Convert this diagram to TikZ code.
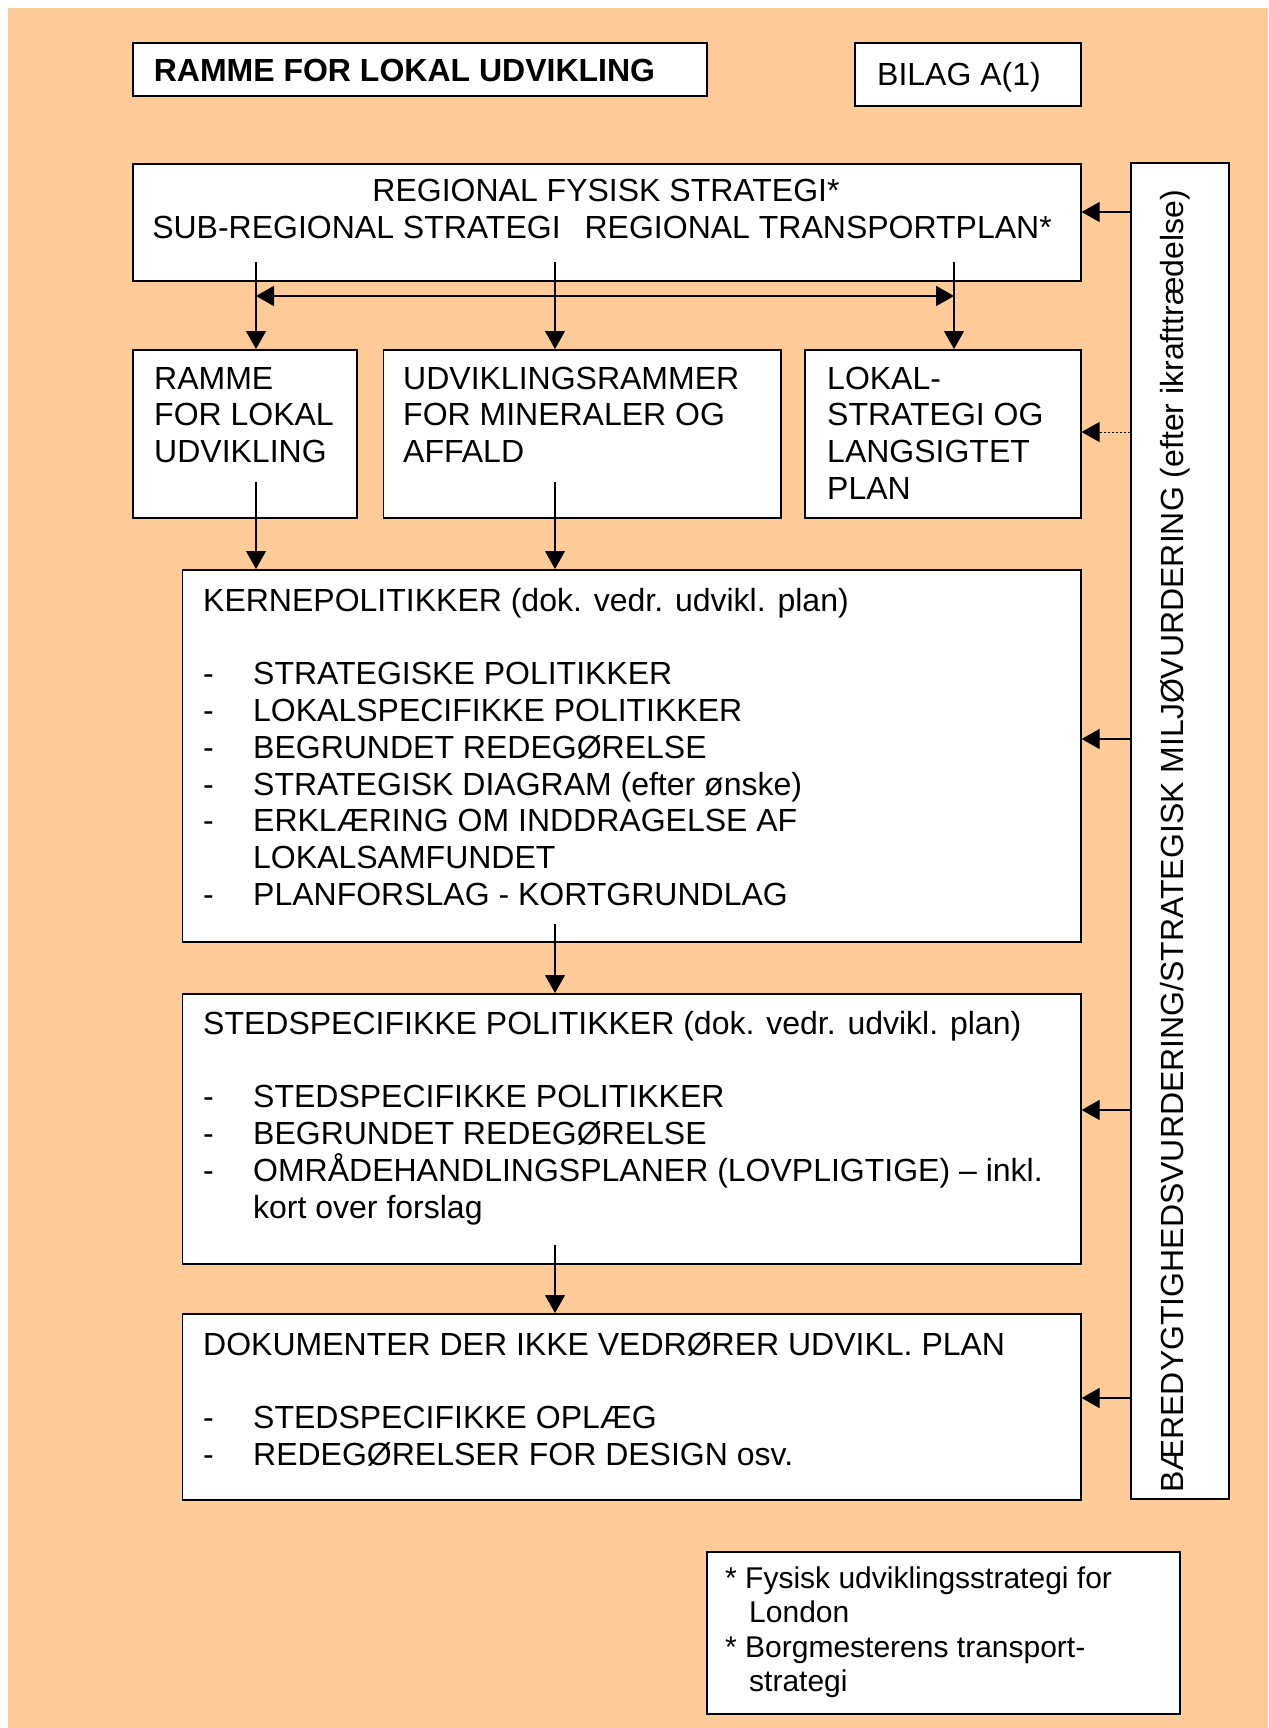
\documentclass[tikz,border=0pt]{standalone}
\usepackage{fontspec}
\setmainfont{Liberation Sans}
\usetikzlibrary{arrows.meta}
\definecolor{fersken}{HTML}{FFCC99}
\newcommand\stor{\fontsize{32}{36.8}\selectfont}
\newcommand\pkt{\makebox[50pt][l]{-}}
\newcommand\linjer[1]{\parbox[t]{900pt}{\raggedright #1}}
\newcommand\kasse[5]{\node[box, minimum width={#4-#2}, minimum height={#5-#3}] (#1) at (#2,#3) {};}
\tikzset{
  box/.style={draw, line width=1.6pt, fill=white, inner sep=0pt, anchor=north west},
  txt/.style={inner sep=0pt, anchor=base west, font=\stor},
  link/.style={line width=1.2pt, -{Triangle[length=18pt,width=20pt]}},
}
\begin{document}
\begin{tikzpicture}[x=1pt,y=-1pt]
\useasboundingbox (0,0) rectangle (1268,1728);
\fill[fersken] (8,8) rectangle (1268,1728);
% overskrift
\kasse{titel}{132}{42}{706}{95}
\kasse{bilag}{854}{42}{1080}{105}
\node[txt, font=\stor\bfseries] (ttitel) at (153.6,82) {RAMME FOR LOKAL UDVIKLING};
\node[txt] (tbilag) at (877,86) {BILAG A(1)};
% regionalt niveau
\kasse{region}{132}{163}{1080}{280}
\node[txt, anchor=base] (tregion1) at (606,202) {REGIONAL FYSISK STRATEGI*};
\node[txt, anchor=base] (tregion2) at (602,239) {SUB-REGIONAL STRATEGI\hspace{24pt}REGIONAL TRANSPORTPLAN*};
% rammer
\kasse{ramme}{132}{349}{356}{517}
\kasse{mineral}{382.5}{349}{780}{517}
\kasse{lokal}{804}{349}{1080}{517}
\node[txt] (tramme) at (154,389) {\linjer{RAMME\\FOR LOKAL\\UDVIKLING}};
\node[txt] (tmineral) at (403,389) {\linjer{UDVIKLINGSRAMMER\\FOR MINERALER OG\\AFFALD}};
\node[txt] (tlokal) at (827,389) {\linjer{LOKAL-\\STRATEGI OG\\LANGSIGTET\\PLAN}};
% dokumenter
\kasse{kerne}{181.5}{569}{1080}{941}
\node[txt] (tkerne) at (203,611) {\linjer{KERNEPOLITIKKER (dok. vedr. udvikl. plan)\\[36.8pt]
  \pkt STRATEGISKE POLITIKKER\\
  \pkt LOKALSPECIFIKKE POLITIKKER\\
  \pkt BEGRUNDET REDEGØRELSE\\
  \pkt STRATEGISK DIAGRAM (efter ønske)\\
  \pkt ERKLÆRING OM INDDRAGELSE AF\\
  \hspace*{50pt}LOKALSAMFUNDET\\
  \pkt PLANFORSLAG - KORTGRUNDLAG}};
\kasse{sted}{181.5}{993}{1080}{1263}
\node[txt] (tsted) at (203,1034) {\linjer{STEDSPECIFIKKE POLITIKKER (dok. vedr. udvikl. plan)\\[36.8pt]
  \pkt STEDSPECIFIKKE POLITIKKER\\
  \pkt BEGRUNDET REDEGØRELSE\\
  \pkt OMRÅDEHANDLINGSPLANER (LOVPLIGTIGE) – inkl.\\
  \hspace*{50pt}kort over forslag}};
\kasse{dok}{181.5}{1313}{1080}{1499}
\node[txt] (tdok) at (203,1355) {\linjer{DOKUMENTER DER IKKE VEDRØRER UDVIKL. PLAN\\[36.8pt]
  \pkt STEDSPECIFIKKE OPLÆG\\
  \pkt REDEGØRELSER FOR DESIGN osv.}};
% vurdering
\kasse{side}{1130}{162}{1228}{1498}
\node[txt, rotate=90] (tside) at (1183,1493) {BÆREDYGTIGHEDSVURDERING/STRATEGISK MILJØVURDERING (efter ikrafttrædelse)};
% fodnote
\kasse{note}{706}{1551}{1179}{1713}
\node[txt, font=\fontsize{30}{34.5}\selectfont] (tnote) at (725,1588) {\linjer{* Fysisk udviklingsstrategi for\\
  \hspace*{24pt}London\\{}
  * Borgmesterens transport-\\
  \hspace*{24pt}strategi}};
% pile
\coordinate (s1) at (256,262);
\coordinate (s2) at (555,262);
\coordinate (s3) at (954,262);
\coordinate (d1) at (256,296);
\coordinate (d2) at (954,296);
\draw[link] (s1) -- (ramme.north -| s1);
\draw[link] (s2) -- (mineral.north -| s2);
\draw[link] (s3) -- (lokal.north -| s3);
\draw[link, line width=1.8pt, {Triangle[length=18pt,width=20pt]}-{Triangle[length=18pt,width=20pt]}] (d1) -- (d2);
\coordinate (r1) at (256,482);
\coordinate (r2) at (555,482);
\coordinate (k1) at (555,924);
\coordinate (k2) at (555,1245);
\draw[link] (r1) -- (kerne.north -| r1);
\draw[link] (r2) -- (kerne.north -| r2);
\draw[link] (k1) -- (sted.north -| k1);
\draw[link] (k2) -- (dok.north -| k2);
\coordinate (h1) at (1130,212);
\coordinate (h2) at (1130,432);
\coordinate (h3) at (1130,739);
\coordinate (h4) at (1130,1110);
\coordinate (h5) at (1130,1398);
\draw[link] (h1) -- (region.east |- h1);
\draw[link, line width=1pt, dash pattern=on 2pt off 2pt] (h2) -- (lokal.east |- h2);
\draw[link] (h3) -- (kerne.east |- h3);
\draw[link] (h4) -- (sted.east |- h4);
\draw[link] (h5) -- (dok.east |- h5);
\end{tikzpicture}
\end{document}
